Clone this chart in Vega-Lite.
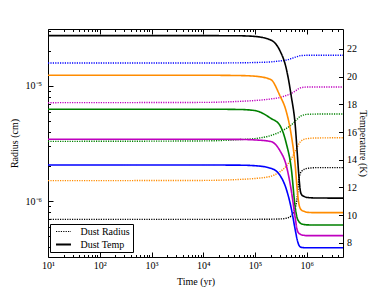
{
"$schema": "https://vega.github.io/schema/vega-lite/v6.json",
"width": 295, "height": 228,
"autosize": {"type": "none"},
"padding": {"left": 48, "top": 29, "right": 39, "bottom": 30},
"background": "white",
"config": {
  "view": {"stroke": null},
  "font": "Liberation Serif",
  "axis": {"labelFont": "Liberation Serif", "titleFont": "Liberation Serif", "labelFontSize": 10, "titleFontSize": 10, "titleFontWeight": "normal", "labelColor": "black", "titleColor": "black", "domainColor": "black", "tickColor": "black", "grid": false, "labelFlush": false, "labelOverlap": false, "domainWidth": 1, "tickWidth": 1}
},
"data": {"values": [
{"t":10,"v":22.96,"s":"black","k":"Dust Temp"},{"t":10000,"v":22.96,"s":"black","k":"Dust Temp"},{"t":50000,"v":22.95,"s":"black","k":"Dust Temp"},{"t":100000,"v":22.9,"s":"black","k":"Dust Temp"},{"t":200000,"v":22.65,"s":"black","k":"Dust Temp"},{"t":300000,"v":21.9,"s":"black","k":"Dust Temp"},{"t":400000,"v":20.6,"s":"black","k":"Dust Temp"},{"t":500000,"v":18.6,"s":"black","k":"Dust Temp"},{"t":600000,"v":16.4,"s":"black","k":"Dust Temp"},{"t":650000,"v":14.6,"s":"black","k":"Dust Temp"},{"t":700000,"v":12.9,"s":"black","k":"Dust Temp"},{"t":750000,"v":11.75,"s":"black","k":"Dust Temp"},{"t":800000,"v":11.46,"s":"black","k":"Dust Temp"},{"t":900000,"v":11.34,"s":"black","k":"Dust Temp"},{"t":1000000,"v":11.28,"s":"black","k":"Dust Temp"},{"t":1500000,"v":11.24,"s":"black","k":"Dust Temp"},{"t":5000000,"v":11.23,"s":"black","k":"Dust Temp"},
{"t":10,"v":20.1,"s":"orange","k":"Dust Temp"},{"t":10000,"v":20.1,"s":"orange","k":"Dust Temp"},{"t":50000,"v":20.08,"s":"orange","k":"Dust Temp"},{"t":100000,"v":20.03,"s":"orange","k":"Dust Temp"},{"t":200000,"v":19.8,"s":"orange","k":"Dust Temp"},{"t":300000,"v":18.65,"s":"orange","k":"Dust Temp"},{"t":400000,"v":17.5,"s":"orange","k":"Dust Temp"},{"t":500000,"v":15.8,"s":"orange","k":"Dust Temp"},{"t":600000,"v":13.5,"s":"orange","k":"Dust Temp"},{"t":650000,"v":11.9,"s":"orange","k":"Dust Temp"},{"t":700000,"v":10.85,"s":"orange","k":"Dust Temp"},{"t":750000,"v":10.47,"s":"orange","k":"Dust Temp"},{"t":800000,"v":10.35,"s":"orange","k":"Dust Temp"},{"t":900000,"v":10.27,"s":"orange","k":"Dust Temp"},{"t":1000000,"v":10.21,"s":"orange","k":"Dust Temp"},{"t":1500000,"v":10.18,"s":"orange","k":"Dust Temp"},{"t":5000000,"v":10.18,"s":"orange","k":"Dust Temp"},
{"t":10,"v":17.65,"s":"green","k":"Dust Temp"},{"t":10000,"v":17.65,"s":"green","k":"Dust Temp"},{"t":50000,"v":17.63,"s":"green","k":"Dust Temp"},{"t":100000,"v":17.55,"s":"green","k":"Dust Temp"},{"t":200000,"v":17.0,"s":"green","k":"Dust Temp"},{"t":300000,"v":16.5,"s":"green","k":"Dust Temp"},{"t":400000,"v":15.2,"s":"green","k":"Dust Temp"},{"t":500000,"v":13.4,"s":"green","k":"Dust Temp"},{"t":600000,"v":10.5,"s":"green","k":"Dust Temp"},{"t":650000,"v":9.8,"s":"green","k":"Dust Temp"},{"t":700000,"v":9.55,"s":"green","k":"Dust Temp"},{"t":750000,"v":9.42,"s":"green","k":"Dust Temp"},{"t":800000,"v":9.36,"s":"green","k":"Dust Temp"},{"t":900000,"v":9.32,"s":"green","k":"Dust Temp"},{"t":1000000,"v":9.3,"s":"green","k":"Dust Temp"},{"t":1500000,"v":9.29,"s":"green","k":"Dust Temp"},{"t":5000000,"v":9.29,"s":"green","k":"Dust Temp"},
{"t":10,"v":15.48,"s":"magenta","k":"Dust Temp"},{"t":10000,"v":15.48,"s":"magenta","k":"Dust Temp"},{"t":50000,"v":15.47,"s":"magenta","k":"Dust Temp"},{"t":100000,"v":15.43,"s":"magenta","k":"Dust Temp"},{"t":200000,"v":15.32,"s":"magenta","k":"Dust Temp"},{"t":300000,"v":14.68,"s":"magenta","k":"Dust Temp"},{"t":400000,"v":13.6,"s":"magenta","k":"Dust Temp"},{"t":500000,"v":11.8,"s":"magenta","k":"Dust Temp"},{"t":600000,"v":9.75,"s":"magenta","k":"Dust Temp"},{"t":650000,"v":8.95,"s":"magenta","k":"Dust Temp"},{"t":700000,"v":8.7,"s":"magenta","k":"Dust Temp"},{"t":750000,"v":8.62,"s":"magenta","k":"Dust Temp"},{"t":800000,"v":8.57,"s":"magenta","k":"Dust Temp"},{"t":900000,"v":8.54,"s":"magenta","k":"Dust Temp"},{"t":1000000,"v":8.52,"s":"magenta","k":"Dust Temp"},{"t":1500000,"v":8.52,"s":"magenta","k":"Dust Temp"},{"t":5000000,"v":8.52,"s":"magenta","k":"Dust Temp"},
{"t":10,"v":13.62,"s":"blue","k":"Dust Temp"},{"t":10000,"v":13.62,"s":"blue","k":"Dust Temp"},{"t":50000,"v":13.61,"s":"blue","k":"Dust Temp"},{"t":100000,"v":13.57,"s":"blue","k":"Dust Temp"},{"t":200000,"v":13.39,"s":"blue","k":"Dust Temp"},{"t":300000,"v":12.9,"s":"blue","k":"Dust Temp"},{"t":400000,"v":11.9,"s":"blue","k":"Dust Temp"},{"t":500000,"v":10.5,"s":"blue","k":"Dust Temp"},{"t":600000,"v":8.9,"s":"blue","k":"Dust Temp"},{"t":650000,"v":8.25,"s":"blue","k":"Dust Temp"},{"t":700000,"v":7.85,"s":"blue","k":"Dust Temp"},{"t":750000,"v":7.7,"s":"blue","k":"Dust Temp"},{"t":800000,"v":7.67,"s":"blue","k":"Dust Temp"},{"t":900000,"v":7.65,"s":"blue","k":"Dust Temp"},{"t":1000000,"v":7.65,"s":"blue","k":"Dust Temp"},{"t":1500000,"v":7.65,"s":"blue","k":"Dust Temp"},{"t":5000000,"v":7.65,"s":"blue","k":"Dust Temp"},
{"t":10,"v":1.585e-5,"s":"blue","k":"Dust Radius"},{"t":10000,"v":1.585e-5,"s":"blue","k":"Dust Radius"},{"t":50000,"v":1.59e-5,"s":"blue","k":"Dust Radius"},{"t":100000,"v":1.6e-5,"s":"blue","k":"Dust Radius"},{"t":200000,"v":1.62e-5,"s":"blue","k":"Dust Radius"},{"t":300000,"v":1.65e-5,"s":"blue","k":"Dust Radius"},{"t":400000,"v":1.68e-5,"s":"blue","k":"Dust Radius"},{"t":500000,"v":1.73e-5,"s":"blue","k":"Dust Radius"},{"t":600000,"v":1.78e-5,"s":"blue","k":"Dust Radius"},{"t":650000,"v":1.8e-5,"s":"blue","k":"Dust Radius"},{"t":700000,"v":1.82e-5,"s":"blue","k":"Dust Radius"},{"t":750000,"v":1.835e-5,"s":"blue","k":"Dust Radius"},{"t":800000,"v":1.84e-5,"s":"blue","k":"Dust Radius"},{"t":900000,"v":1.845e-5,"s":"blue","k":"Dust Radius"},{"t":1000000,"v":1.85e-5,"s":"blue","k":"Dust Radius"},{"t":1500000,"v":1.85e-5,"s":"blue","k":"Dust Radius"},{"t":5000000,"v":1.85e-5,"s":"blue","k":"Dust Radius"},
{"t":10,"v":7.16e-6,"s":"magenta","k":"Dust Radius"},{"t":10000,"v":7.2e-6,"s":"magenta","k":"Dust Radius"},{"t":50000,"v":7.35e-6,"s":"magenta","k":"Dust Radius"},{"t":100000,"v":7.48e-6,"s":"magenta","k":"Dust Radius"},{"t":200000,"v":7.71e-6,"s":"magenta","k":"Dust Radius"},{"t":300000,"v":7.94e-6,"s":"magenta","k":"Dust Radius"},{"t":400000,"v":8.27e-6,"s":"magenta","k":"Dust Radius"},{"t":500000,"v":8.6e-6,"s":"magenta","k":"Dust Radius"},{"t":600000,"v":9.05e-6,"s":"magenta","k":"Dust Radius"},{"t":650000,"v":9.3e-6,"s":"magenta","k":"Dust Radius"},{"t":700000,"v":9.5e-6,"s":"magenta","k":"Dust Radius"},{"t":750000,"v":9.62e-6,"s":"magenta","k":"Dust Radius"},{"t":800000,"v":9.7e-6,"s":"magenta","k":"Dust Radius"},{"t":900000,"v":9.76e-6,"s":"magenta","k":"Dust Radius"},{"t":1000000,"v":9.8e-6,"s":"magenta","k":"Dust Radius"},{"t":1500000,"v":9.8e-6,"s":"magenta","k":"Dust Radius"},{"t":5000000,"v":9.8e-6,"s":"magenta","k":"Dust Radius"},
{"t":10,"v":3.3e-6,"s":"green","k":"Dust Radius"},{"t":10000,"v":3.33e-6,"s":"green","k":"Dust Radius"},{"t":50000,"v":3.42e-6,"s":"green","k":"Dust Radius"},{"t":100000,"v":3.49e-6,"s":"green","k":"Dust Radius"},{"t":200000,"v":3.71e-6,"s":"green","k":"Dust Radius"},{"t":300000,"v":3.98e-6,"s":"green","k":"Dust Radius"},{"t":400000,"v":4.27e-6,"s":"green","k":"Dust Radius"},{"t":500000,"v":4.58e-6,"s":"green","k":"Dust Radius"},{"t":600000,"v":4.96e-6,"s":"green","k":"Dust Radius"},{"t":650000,"v":5.15e-6,"s":"green","k":"Dust Radius"},{"t":700000,"v":5.32e-6,"s":"green","k":"Dust Radius"},{"t":750000,"v":5.45e-6,"s":"green","k":"Dust Radius"},{"t":800000,"v":5.53e-6,"s":"green","k":"Dust Radius"},{"t":900000,"v":5.62e-6,"s":"green","k":"Dust Radius"},{"t":1000000,"v":5.67e-6,"s":"green","k":"Dust Radius"},{"t":1500000,"v":5.7e-6,"s":"green","k":"Dust Radius"},{"t":5000000,"v":5.71e-6,"s":"green","k":"Dust Radius"},
{"t":10,"v":1.503e-6,"s":"orange","k":"Dust Radius"},{"t":10000,"v":1.51e-6,"s":"orange","k":"Dust Radius"},{"t":50000,"v":1.54e-6,"s":"orange","k":"Dust Radius"},{"t":100000,"v":1.57e-6,"s":"orange","k":"Dust Radius"},{"t":200000,"v":1.64e-6,"s":"orange","k":"Dust Radius"},{"t":300000,"v":1.79e-6,"s":"orange","k":"Dust Radius"},{"t":400000,"v":2.01e-6,"s":"orange","k":"Dust Radius"},{"t":500000,"v":2.32e-6,"s":"orange","k":"Dust Radius"},{"t":600000,"v":2.72e-6,"s":"orange","k":"Dust Radius"},{"t":650000,"v":2.93e-6,"s":"orange","k":"Dust Radius"},{"t":700000,"v":3.13e-6,"s":"orange","k":"Dust Radius"},{"t":750000,"v":3.27e-6,"s":"orange","k":"Dust Radius"},{"t":800000,"v":3.36e-6,"s":"orange","k":"Dust Radius"},{"t":900000,"v":3.45e-6,"s":"orange","k":"Dust Radius"},{"t":1000000,"v":3.49e-6,"s":"orange","k":"Dust Radius"},{"t":1500000,"v":3.53e-6,"s":"orange","k":"Dust Radius"},{"t":5000000,"v":3.55e-6,"s":"orange","k":"Dust Radius"},
{"t":10,"v":6.93e-7,"s":"black","k":"Dust Radius"},{"t":10000,"v":6.93e-7,"s":"black","k":"Dust Radius"},{"t":50000,"v":6.93e-7,"s":"black","k":"Dust Radius"},{"t":100000,"v":6.93e-7,"s":"black","k":"Dust Radius"},{"t":200000,"v":6.95e-7,"s":"black","k":"Dust Radius"},{"t":300000,"v":6.98e-7,"s":"black","k":"Dust Radius"},{"t":400000,"v":7.08e-7,"s":"black","k":"Dust Radius"},{"t":500000,"v":7.41e-7,"s":"black","k":"Dust Radius"},{"t":600000,"v":8.77e-7,"s":"black","k":"Dust Radius"},{"t":650000,"v":1.06e-6,"s":"black","k":"Dust Radius"},{"t":700000,"v":1.52e-6,"s":"black","k":"Dust Radius"},{"t":750000,"v":1.74e-6,"s":"black","k":"Dust Radius"},{"t":800000,"v":1.82e-6,"s":"black","k":"Dust Radius"},{"t":900000,"v":1.89e-6,"s":"black","k":"Dust Radius"},{"t":1000000,"v":1.92e-6,"s":"black","k":"Dust Radius"},{"t":1500000,"v":1.95e-6,"s":"black","k":"Dust Radius"},{"t":5000000,"v":1.95e-6,"s":"black","k":"Dust Radius"}
]},
"layer": [
  {
    "transform": [{"filter": "datum.k == 'Dust Radius'"}],
    "mark": {"type": "line", "interpolate": "monotone", "strokeWidth": 1.4},
    "encoding": {
      "x": {"field": "t", "type": "quantitative", "scale": {"type": "log", "domain": [10, 5000000], "nice": false},
        "axis": {"orient": "bottom", "title": "Time (yr)", "titlePadding": 3, "labelPadding": 8.5,
          "values": [10,20,30,40,50,60,70,80,90,100,200,300,400,500,600,700,800,900,1000,2000,3000,4000,5000,6000,7000,8000,9000,10000,20000,30000,40000,50000,60000,70000,80000,90000,100000,200000,300000,400000,500000,600000,700000,800000,900000,1000000,2000000,3000000,4000000],
          "labelExpr": "abs(log(datum.value)/LN10 - round(log(datum.value)/LN10)) < 0.01 ? '10' + ['⁰','¹','²','³','⁴','⁵','⁶','⁷','⁸'][round(log(datum.value)/LN10)] : ''",
          "tickSize": {"condition": {"test": "abs(log(datum.value)/LN10 - round(log(datum.value)/LN10)) < 0.01", "value": -5}, "value": -2.5}}},
      "y": {"field": "v", "type": "quantitative", "scale": {"type": "log", "domain": [3.26e-7, 3.13e-5], "nice": false},
        "axis": {"orient": "left", "title": "Radius (cm)", "titlePadding": 6, "labelPadding": 11.5,
          "values": [4e-7,5e-7,6e-7,7e-7,8e-7,9e-7,1e-6,2e-6,3e-6,4e-6,5e-6,6e-6,7e-6,8e-6,9e-6,1e-5,2e-5,3e-5],
          "labelExpr": "abs(log(datum.value)/LN10 - round(log(datum.value)/LN10)) < 0.01 ? '10⁻' + ['⁰','¹','²','³','⁴','⁵','⁶','⁷','⁸'][-round(log(datum.value)/LN10)] : ''",
          "tickSize": {"condition": {"test": "abs(log(datum.value)/LN10 - round(log(datum.value)/LN10)) < 0.01", "value": -5}, "value": -2.5}}},
      "color": {"field": "s", "type": "nominal", "legend": null,
        "scale": {"domain": ["black","orange","green","magenta","blue"], "range": ["#000000","#ff8c00","#008000","#bf00bf","#0000ff"]}},
      "strokeDash": {"field": "k", "type": "nominal",
        "scale": {"domain": ["Dust Radius","Dust Temp"], "range": [[1.2,1.2],[1,0]]},
        "legend": {"orient": "none", "legendX": 2, "legendY": 195, "title": null,
          "symbolType": "M-2,0H2", "symbolSize": 56, "symbolStrokeColor": "black", "symbolStrokeWidth": 1.5,
          "strokeColor": "black", "fillColor": "white", "padding": 2.5,
          "labelFont": "Liberation Serif", "labelFontSize": 10, "labelColor": "black",
          "labelOffset": 12, "symbolOffset": 6, "rowPadding": 3,
          "labelExpr": "datum.label + '\u00a0\u00a0\u00a0\u00a0'",
          "encode": {"symbols": {"update": {"strokeWidth": {"signal": "datum.value === 'Dust Temp' ? 2 : 1.2"}}}}}}
    }
  },
  {
    "transform": [{"filter": "datum.k == 'Dust Temp'"}],
    "mark": {"type": "line", "interpolate": "monotone", "strokeWidth": 1.6},
    "encoding": {
      "x": {"field": "t", "type": "quantitative", "scale": {"type": "log", "domain": [10, 5000000], "nice": false},
        "axis": {"orient": "top", "title": null, "labels": false,
          "values": [10,20,30,40,50,60,70,80,90,100,200,300,400,500,600,700,800,900,1000,2000,3000,4000,5000,6000,7000,8000,9000,10000,20000,30000,40000,50000,60000,70000,80000,90000,100000,200000,300000,400000,500000,600000,700000,800000,900000,1000000,2000000,3000000,4000000],
          "tickSize": {"condition": {"test": "abs(log(datum.value)/LN10 - round(log(datum.value)/LN10)) < 0.01", "value": -5}, "value": -2.5}}},
      "y": {"field": "v", "type": "quantitative", "scale": {"domain": [6.98, 23.44], "nice": false, "zero": false},
        "axis": {"orient": "right", "title": "Temperature (K)", "titlePadding": 1, "labelPadding": 8, "tickSize": -4.5,
          "values": [8,10,12,14,16,18,20,22]}},
      "color": {"field": "s", "type": "nominal", "legend": null},
      "strokeDash": {"field": "k", "type": "nominal"}
    }
  }
],
"resolve": {"scale": {"y": "independent"}, "axis": {"x": "independent", "y": "independent"}}
}
